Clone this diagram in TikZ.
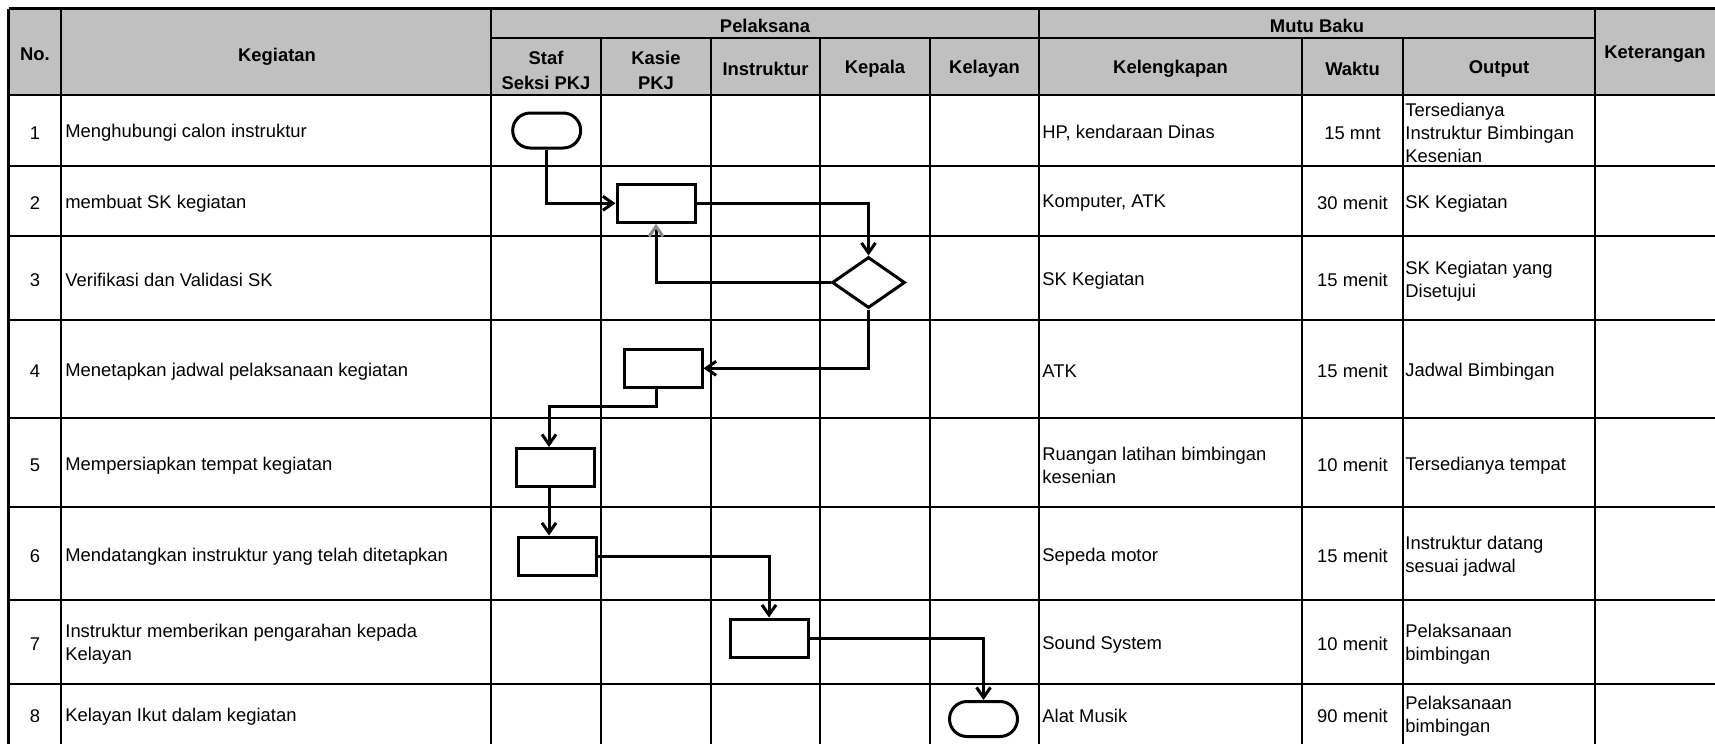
\documentclass[tikz,border=0pt]{standalone}
\usepackage{fontspec}
\setmainfont{Liberation Sans}
\usetikzlibrary{shapes.geometric,shapes.misc,arrows.meta}
\definecolor{hdrgray}{RGB}{192,192,192}
\begin{document}
\begin{tikzpicture}[x=0.5pt,y=-0.5pt,
  grid/.style={line width=1.25pt},
  border/.style={line width=1.6pt},
  txt/.style={inner sep=0pt, yshift=-1.2pt, font=\fontsize{9.2}{11.5}\selectfont},
  lt/.style={txt, anchor=west, align=left},
  ct/.style={txt, align=center},
  hd/.style={inner sep=0pt, yshift=-1pt, align=center, font=\fontsize{9.2}{12.5}\selectfont\bfseries},
  proc/.style={draw, line width=1.5pt, rectangle, minimum width=39pt, minimum height=19pt, inner sep=0pt},
  term/.style={draw, line width=1.5pt, rounded rectangle, minimum width=34pt, minimum height=17.5pt, inner sep=0pt},
  dec/.style={draw, line width=1.5pt, diamond, minimum width=36.5pt, minimum height=25.5pt, inner sep=0pt},
  arr/.style={line width=1.5pt, -{Straight Barb[length=5pt,width=7pt]}}
]
\fill[white] (0,0) rectangle (1715,744);
\useasboundingbox (0,0) rectangle (1715,744);
% header fill
\fill[hdrgray] (8.5,8.5) rectangle (1715,95);
% horizontal lines
\draw[border] (8.5,8.5) -- (1715,8.5);
\draw[grid] (491,38) -- (1595,38);
\foreach \yy in {95,166,236,320,418,507,600,684}
  \draw[grid] (8.5,\yy) -- (1715,\yy);
% vertical lines
\draw[border] (8.5,8.5) -- (8.5,744);
\foreach \xx in {61,491,1039,1595}
  \draw[grid] (\xx,8.5) -- (\xx,744);
\foreach \xx in {601,711,820,930,1302,1403}
  \draw[grid] (\xx,38) -- (\xx,744);

% header texts
\node[hd] (hno) at (35,52) {No.};
\node[hd] (hkeg) at (277,55) {Kegiatan};
\node[hd] (hpel) at (765,24) {Pelaksana};
\node[hd] (hmutu) at (1317,24) {Mutu Baku};
\node[hd] (hket) at (1655,52) {Keterangan};
\node[hd] (hstaf) at (546,68) {Staf\\Seksi PKJ};
\node[hd] (hkasie) at (656,68) {Kasie\\PKJ};
\node[hd] (hins) at (765.5,67) {Instruktur};
\node[hd] (hkep) at (875,67) {Kepala};
\node[hd] (hkel) at (984.5,67) {Kelayan};
\node[hd] (hlkp) at (1170.5,67) {Kelengkapan};
\node[hd] (hwkt) at (1352.5,67) {Waktu};
\node[hd] (hout) at (1499,67) {Output};

% row 1
\node[ct] (n1) at (35,130.5) {1};
\node[lt] (k1) at (65,130.5) {Menghubungi calon instruktur};
\node[lt] (l1) at (1042,130.5) {HP, kendaraan Dinas};
\node[ct] (w1) at (1352.5,130.5) {15 mnt};
\node[lt] (o1) at (1405,130.5) {Tersedianya\\Instruktur Bimbingan\\Kesenian};
% row 2
\node[ct] (n2) at (35,201) {2};
\node[lt] (k2) at (65,201) {membuat SK kegiatan};
\node[lt] (l2) at (1042,201) {Komputer, ATK};
\node[ct] (w2) at (1352.5,201) {30 menit};
\node[lt] (o2) at (1405,201) {SK Kegiatan};
% row 3
\node[ct] (n3) at (35,278) {3};
\node[lt] (k3) at (65,278) {Verifikasi dan Validasi SK};
\node[lt] (l3) at (1042,278) {SK Kegiatan};
\node[ct] (w3) at (1352.5,278) {15 menit};
\node[lt] (o3) at (1405,279) {SK Kegiatan yang\\Disetujui};
% row 4
\node[ct] (n4) at (35,369) {4};
\node[lt] (k4) at (65,369) {Menetapkan jadwal pelaksanaan kegiatan};
\node[lt] (l4) at (1042,369) {ATK};
\node[ct] (w4) at (1352.5,369) {15 menit};
\node[lt] (o4) at (1405,369) {Jadwal Bimbingan};
% row 5
\node[ct] (n5) at (35,463) {5};
\node[lt] (k5) at (65,463) {Mempersiapkan tempat kegiatan};
\node[lt] (l5) at (1042,463) {Ruangan latihan bimbingan\\kesenian};
\node[ct] (w5) at (1352.5,463) {10 menit};
\node[lt] (o5) at (1405,463) {Tersedianya tempat};
% row 6
\node[ct] (n6) at (35,554) {6};
\node[lt] (k6) at (65,554) {Mendatangkan instruktur yang telah ditetapkan};
\node[lt] (l6) at (1042,554) {Sepeda motor};
\node[ct] (w6) at (1352.5,554) {15 menit};
\node[lt] (o6) at (1405,554) {Instruktur datang\\sesuai jadwal};
% row 7
\node[ct] (n7) at (35,642) {7};
\node[lt] (k7) at (65,642) {Instruktur memberikan pengarahan kepada\\Kelayan};
\node[lt] (l7) at (1042,642) {Sound System};
\node[ct] (w7) at (1352.5,642) {10 menit};
\node[lt] (o7) at (1405,642) {Pelaksanaan\\bimbingan};
% row 8
\node[ct] (n8) at (35,714) {8};
\node[lt] (k8) at (65,714) {Kelayan Ikut dalam kegiatan};
\node[lt] (l8) at (1042,714) {Alat Musik};
\node[ct] (w8) at (1352.5,714) {90 menit};
\node[lt] (o8) at (1405,714) {Pelaksanaan\\bimbingan};

% flow shapes
\node[term] (t1) at (546.7,130.5) {};
\node[proc] (r2) at (656,203.3) {};
\node[dec] (d3) at (868.5,282.5) {};
\node[proc] (r4) at (663,368.3) {};
\node[proc] (r5) at (555,467.5) {};
\node[proc] (r6) at (557,556) {};
\node[proc] (r7) at (769,638) {};
\node[term] (t8) at (983.5,719) {};
\coordinate (b45) at (656,406);
\coordinate (c5) at (549,0);

% connectors
\draw[arr] (t1.south) |- (r2.west);
\draw[arr] (r2.east) -| (d3.north);
\draw[line width=1.5pt, -{Straight Barb[length=5pt,width=7pt,color=black!45]}] (d3.west) -| (r2.south);
\draw[arr] (d3.south) |- (r4.east);
\draw[arr] (r4.south -| b45) -- (b45) -- (b45 -| c5) -- (c5 |- r5.north);
\draw[arr] (r5.south -| c5) -- (c5 |- r6.north);
\draw[arr] (r6.east) -| (r7.north);
\draw[arr] (r7.east) -| (t8.north);
\end{tikzpicture}
\end{document}
